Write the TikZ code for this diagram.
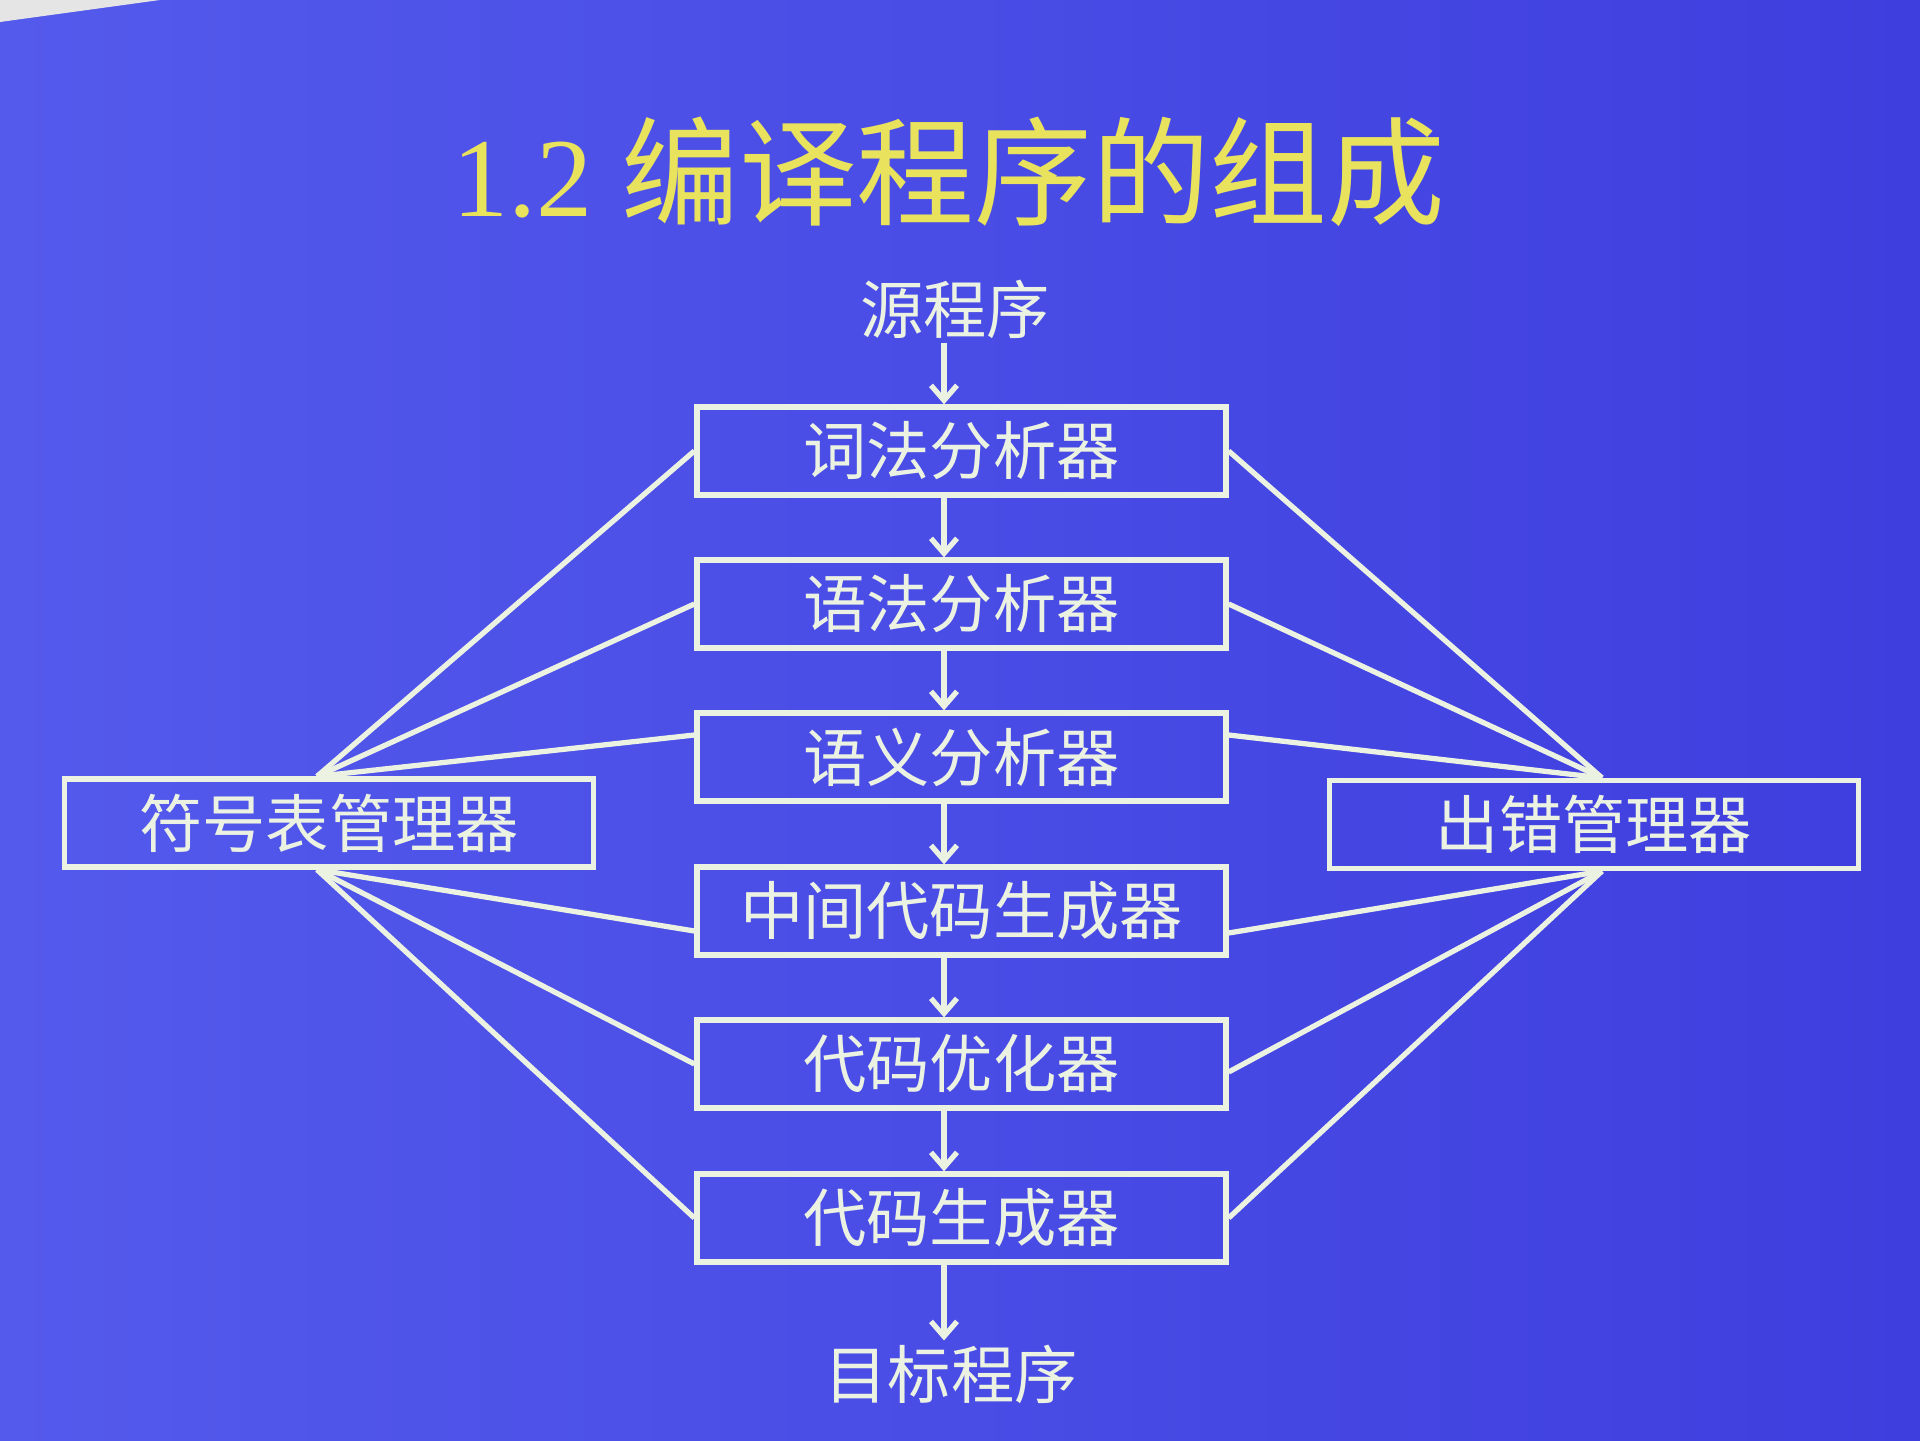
\documentclass[tikz,border=0pt]{standalone}
\usepackage{fontspec}
\setmainfont{Liberation Serif}
\newfontfamily\cjk{Noto Sans CJK SC}
\usetikzlibrary{arrows.meta}

\definecolor{bgleft}{RGB}{84,90,236}
\definecolor{bgright}{RGB}{62,62,222}
\definecolor{chalk}{RGB}{236,242,226}
\definecolor{titleyellow}{RGB}{232,226,92}

\begin{document}
\begin{tikzpicture}[
        stage/.style={draw=chalk, line width=1.5pt, minimum width=5.29cm, minimum height=0.88cm,
            inner sep=0pt, text=chalk, font=\cjk\fontsize{18}{20}\selectfont},
        label/.style={text=chalk, inner sep=1pt, font=\cjk\fontsize{18}{20}\selectfont},
        flow/.style={-{Straight Barb[length=1.5mm, width=2.6mm]}, draw=chalk, line width=1.5pt},
        link/.style={draw=chalk, line width=1.5pt}
    ]
        \useasboundingbox (0,0) rectangle (19.2,-14.41);
        \shade[left color=bgleft, right color=bgright] (0,0) rectangle (19.2,-14.41);
        \fill[gray!20] (0,0) -- (1.6,0) -- (0,-0.22) -- cycle;

        \node[text=titleyellow, font=\fontsize{32}{36}\selectfont] (title) at (9.49,-1.72)
            {1.2 {\cjk\fontsize{33.5}{38}\selectfont 编译程序的组成}};

        \node[label] (src) at (9.55,-3.09) {源程序};

        \node[stage] (lex) at (9.615,-4.51) {词法分析器};
        \node[stage] (syn) at (9.615,-6.04) {语法分析器};
        \node[stage] (sem) at (9.615,-7.57) {语义分析器};
        \node[stage] (inter) at (9.615,-9.11) {中间代码生成器};
        \node[stage] (opt) at (9.615,-10.64) {代码优化器};
        \node[stage] (gen) at (9.615,-12.18) {代码生成器};

        \node[label] (tgt) at (9.51,-13.74) {目标程序};

        \node[stage] (symtab) at (3.29,-8.23) {符号表管理器};
        \node[stage] (err) at (15.94,-8.245) {出错管理器};

        % main chain
        \draw[flow] ([xshift=-1.75mm]lex.north |- src.south) -- ([xshift=-1.75mm]lex.north);
        \foreach \a/\b in {lex/syn, syn/sem, sem/inter, inter/opt, opt/gen}
            \draw[flow] ([xshift=-1.75mm]\a.south) -- ([xshift=-1.75mm]\b.north);
        \draw[flow] ([xshift=-1.75mm]gen.south) -- ([xshift=-1.75mm]gen.south |- tgt.north);

        % symbol table links
        \draw[link] (lex.west) -- ([xshift=-1.2mm]symtab.north);
        \draw[link] (syn.west) -- ([xshift=-1.2mm]symtab.north);
        \draw[link] ([yshift=2.2mm]sem.west) -- ([xshift=-1.2mm]symtab.north);
        \draw[link] ([yshift=-2mm]inter.west) -- ([xshift=-1.2mm]symtab.south);
        \draw[link] (opt.west) -- ([xshift=-1.2mm]symtab.south);
        \draw[link] (gen.west) -- ([xshift=-1.2mm]symtab.south);

        % error links
        \draw[link] (lex.east) -- ([xshift=0.8mm]err.north);
        \draw[link] (syn.east) -- ([xshift=0.8mm]err.north);
        \draw[link] ([yshift=2.2mm]sem.east) -- ([xshift=0.8mm]err.north);
        \draw[link] ([yshift=-2.2mm]inter.east) -- ([xshift=0.8mm]err.south);
        \draw[link] ([yshift=-0.8mm]opt.east) -- ([xshift=0.8mm]err.south);
        \draw[link] (gen.east) -- ([xshift=0.8mm]err.south);

    \end{tikzpicture}
\end{document}
